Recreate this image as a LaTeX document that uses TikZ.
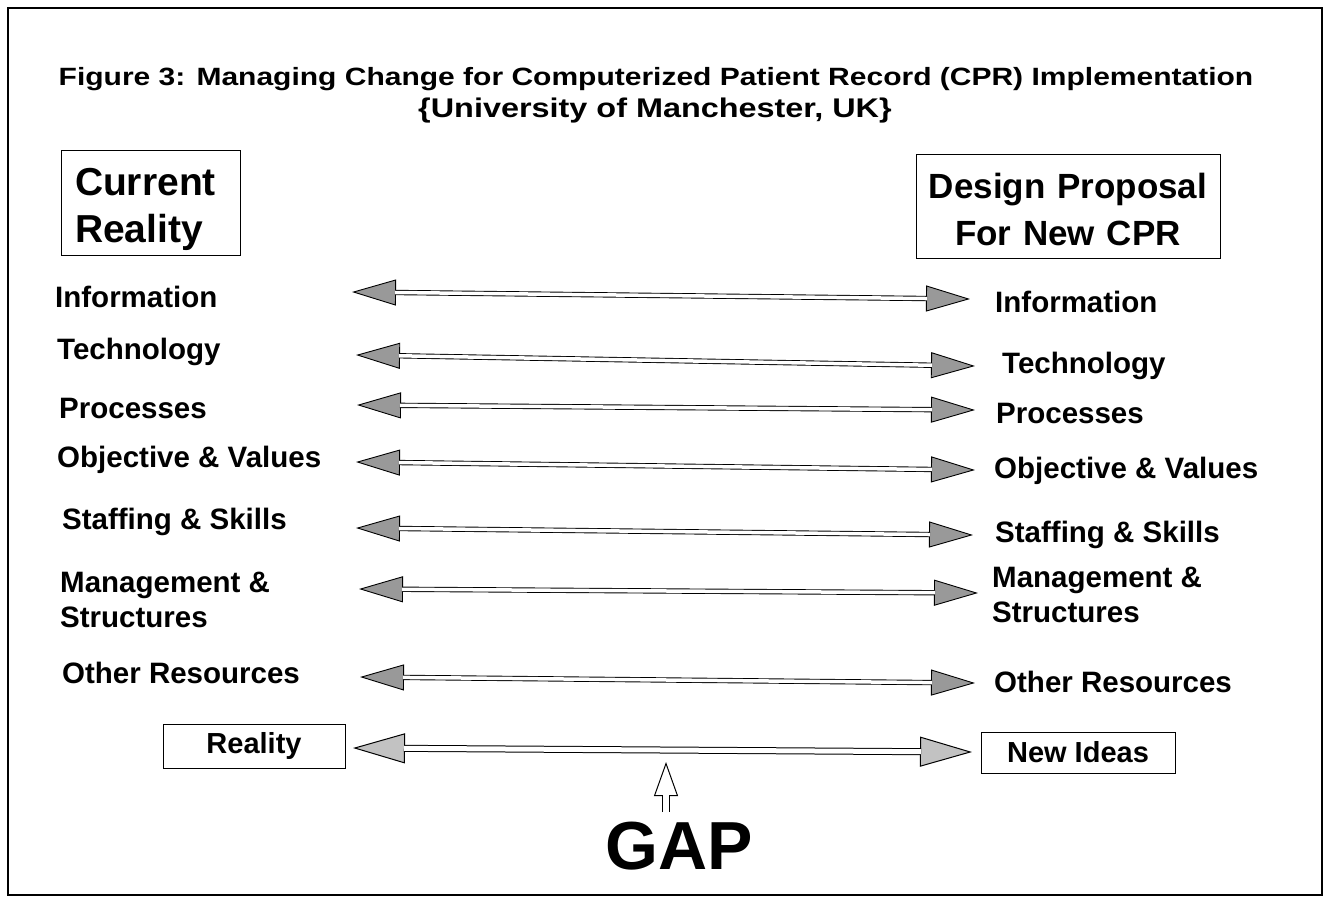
\documentclass[tikz,border=0pt]{standalone}
\usepackage{fontspec}
\setmainfont{Liberation Sans}
\newfontfamily\widesans[FakeStretch=1.2]{Liberation Sans}
\usetikzlibrary{arrows.meta}
\definecolor{headgray}{gray}{0.6}

\begin{document}
\begin{tikzpicture}[x=1pt,y=-1pt,
    title/.style={font=\widesans\fontsize{25}{30}\selectfont\bfseries,anchor=base,inner sep=0pt},
    lab/.style={font=\fontsize{29.5}{35}\selectfont\bfseries,inner sep=0pt,align=left,anchor=west},
    bigbox/.style={draw,line width=1pt,font=\fontsize{39}{47}\selectfont\bfseries,inner ysep=0pt},
    smallbox/.style={draw,line width=1pt,font=\fontsize{29}{35}\selectfont\bfseries,inner sep=0pt},
    duo/.style={line width=0.9pt,
      {Triangle[length=44pt,width=26pt,fill=headgray]}-{Triangle[length=44pt,width=26pt,fill=headgray]},
      postaction={draw,-,double=white,double distance=3.5pt,line width=0.9pt,shorten <=43pt,shorten >=43pt}},
    gapduo/.style={line width=1pt,
      {Triangle[length=52pt,width=30pt,fill=headgray!60]}-{Triangle[length=52pt,width=30pt,fill=headgray!60]},
      postaction={draw,-,double=white,double distance=5pt,line width=1pt,shorten <=51pt,shorten >=51pt}},
    upar/.style={line width=1pt,-{Triangle[length=34pt,width=24pt,fill=white]},
      postaction={draw,-,double=white,double distance=6pt,line width=1pt,shorten >=33pt}}]

  \useasboundingbox (0,0) rectangle (1330,898);
  \draw[line width=2.5pt] (8,8) rectangle (1322,895);

  % heading
  \node[title] (title1) at (656,85) {Figure 3: Managing Change for Computerized Patient Record (CPR) Implementation};
  \node[title,font=\widesans\fontsize{27}{30}\selectfont\bfseries] (title2) at (655,117) {\{University of Manchester, UK\}};

  % the two sides
  \node[bigbox,align=left,text width=151pt,inner xsep=14pt,text height=42pt,minimum height=105pt] (now) at (150.5,202.5) {Current\\Reality};
  \node[bigbox,font=\fontsize{35}{47}\selectfont\bfseries,align=center,text width=280pt,inner xsep=12pt,text height=32pt,minimum height=104pt] (plan) at (1068,206) {Design Proposal\\For New CPR};

  % left column
  \node[lab] (infoL) at (55,297) {Information};
  \node[lab] (techL) at (57,352) {Technology};
  \node[lab] (procL) at (59,408) {Processes};
  \node[lab] (objL) at (57,460) {Objective \& Values};
  \node[lab] (staffL) at (62,522) {Staffing \& Skills};
  \node[lab] (mgmtL) at (60,600) {Management \&\\Structures};
  \node[lab] (otherL) at (62,673) {Other Resources};

  % right column
  \node[lab] (infoR) at (995,302) {Information};
  \node[lab] (techR) at (1002,366) {Technology};
  \node[lab] (procR) at (996,413) {Processes};
  \node[lab] (objR) at (994,471) {Objective \& Values};
  \node[lab] (staffR) at (995,535) {Staffing \& Skills};
  \node[lab] (mgmtR) at (992,595) {Management \&\\Structures};
  \node[lab] (otherR) at (994,682) {Other Resources};

  % arrow ends
  \coordinate (infoS) at (352,292);  \coordinate (infoE) at (970,299);
  \coordinate (techS) at (356,355);  \coordinate (techE) at (975,366);
  \coordinate (procS) at (357,405);  \coordinate (procE) at (975,410);
  \coordinate (objS) at (356,462);   \coordinate (objE) at (975,470);
  \coordinate (staffS) at (356,528); \coordinate (staffE) at (973,535);
  \coordinate (mgmtS) at (359,589);  \coordinate (mgmtE) at (978,593);
  \coordinate (otherS) at (360,677); \coordinate (otherE) at (975,683);

  \draw[duo] (infoS) -- (infoE);
  \draw[duo] (techS) -- (techE);
  \draw[duo] (procS) -- (procE);
  \draw[duo] (objS) -- (objE);
  \draw[duo] (staffS) -- (staffE);
  \draw[duo] (mgmtS) -- (mgmtE);
  \draw[duo] (otherS) -- (otherE);

  % bottom row
  \node[smallbox,minimum width=182pt,minimum height=44pt] (real) at (254,746) {Reality};
  \node[smallbox,minimum width=194pt,minimum height=41pt] (ideas) at (1078,752.5) {New Ideas};
  \coordinate (gapS) at (353,748); \coordinate (gapE) at (972,752);
  \draw[gapduo] (gapS) -- (gapE);

  \node[font=\fontsize{68}{70}\selectfont\bfseries,anchor=base,inner sep=0pt] (gap) at (679,869) {GAP};
  \coordinate (gapfoot) at (666,812); \coordinate (gaptip) at (666,762);
  \draw[upar] (gapfoot) -- (gaptip);
\end{tikzpicture}
\end{document}
